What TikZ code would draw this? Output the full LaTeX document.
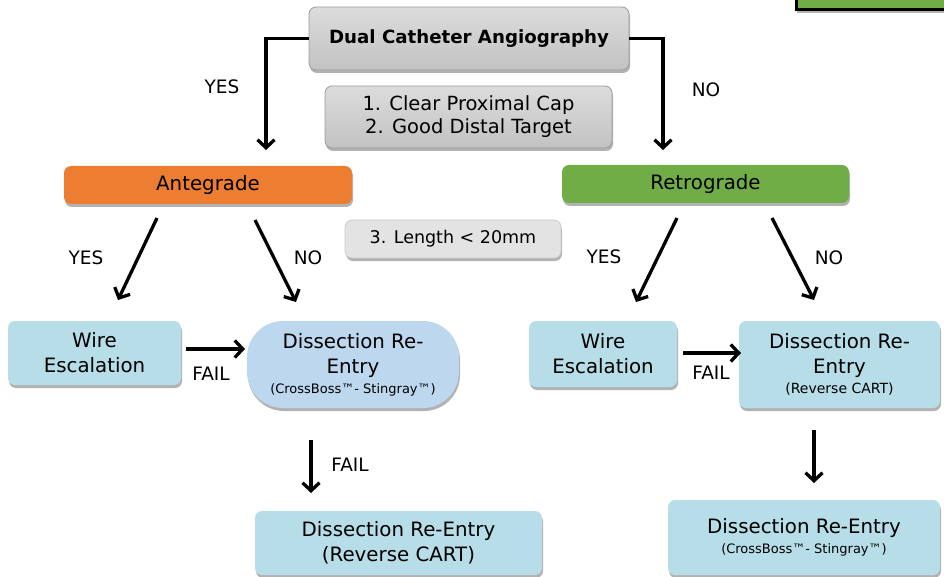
\documentclass[tikz,border=0pt]{standalone}
\usepackage{fontspec}
\setmainfont{DejaVu Sans}
\usetikzlibrary{arrows.meta,shadows}
\definecolor{orng}{HTML}{ED7D31}
\definecolor{grn}{HTML}{70AD47}
\definecolor{lblue}{HTML}{B7DDE8}
\definecolor{pblue}{HTML}{BDD7EE}
\definecolor{gtop}{HTML}{DCDCDC}
\definecolor{gbot}{HTML}{C2C2C2}
\definecolor{gedge}{HTML}{9C9C9C}
\begin{document}
\begin{tikzpicture}[x=1pt,y=-1pt,
  shd/.style={drop shadow={shadow xshift=1pt,shadow yshift=-3pt,opacity=0.3,fill=black}},
  box/.style={rounded corners=7pt,align=center,inner sep=0pt,shd},
  graybox/.style={box,draw=gedge,line width=0.8pt,top color=gtop,bottom color=gbot},
  lightbox/.style={box,draw=gray!40,line width=0.8pt,fill=gray!22},
  bluebox/.style={box,fill=lblue},
  big/.style={font=\fontsize{19.8}{25}\selectfont},
  lbl/.style={font=\fontsize{18.5}{20}\selectfont},
  arr/.style={line width=3.3pt,-{Straight Barb[length=8pt,width=17pt,line width=3.3pt]}},
  elb/.style={line width=3.3pt,-{Straight Barb[length=8pt,width=17pt,line width=3.3pt]},rounded corners=0pt}
]
\useasboundingbox (0,0) rectangle (944,577);

% partially visible box at the top right
\node[box,rounded corners=0pt,draw=black,line width=3pt,fill=grn,minimum width=152pt,minimum height=24pt] (corner) at (872,-2) {};

\node[graybox,minimum width=320pt,minimum height=63pt,font=\bfseries\fontsize{18.2}{22}\selectfont] (top) at (469,38.5) {Dual Catheter Angiography};
\node[graybox,minimum width=287pt,minimum height=62pt,font=\fontsize{19.5}{23}\selectfont] (cond) at (468.5,117) {1. Clear Proximal Cap\\2. Good Distal Target};
\node[box,fill=orng,minimum width=288pt,minimum height=38pt,big] (ante) at (208,185) {Antegrade};
\node[box,fill=grn,minimum width=287pt,minimum height=38pt,big] (retro) at (705.5,184) {Retrograde};
\node[lightbox,minimum width=216pt,minimum height=38pt,font=\fontsize{17.5}{20}\selectfont] (len) at (453,239) {3. Length < 20mm};

\node[bluebox,minimum width=173pt,minimum height=64pt,big] (we1) at (94.5,353) {Wire\\Escalation};
\node[box,fill=pblue,rounded corners=36pt,minimum width=212pt,minimum height=87pt,big] (dr1) at (353,364.5) {Dissection Re-\\Entry\\[-5pt]{\fontsize{13}{15}\selectfont(CrossBoss™- Stingray™)}};
\node[bluebox,minimum width=148pt,minimum height=66pt,big] (we2) at (603,354) {Wire\\Escalation};
\node[bluebox,minimum width=201pt,minimum height=87pt,big] (dr2) at (839.5,364.5) {Dissection Re-\\Entry\\[-5pt]{\fontsize{14}{16}\selectfont(Reverse CART)}};
\node[bluebox,minimum width=287pt,minimum height=64pt,big] (bl) at (398.5,543) {Dissection Re-Entry\\(Reverse CART)};
\node[bluebox,minimum width=272pt,minimum height=75pt,big] (br) at (804,537.5) {Dissection Re-Entry\\[-5pt]{\fontsize{13}{15}\selectfont(CrossBoss™- Stingray™)}};

% free ends of connectors
\coordinate (t1) at (266,150);
\coordinate (t2) at (663,150);
\coordinate (a1s) at (157,218); \coordinate (a1e) at (118,300);
\coordinate (a2s) at (255,220); \coordinate (a2e) at (296,302);
\coordinate (r1s) at (677,218); \coordinate (r1e) at (636,302);
\coordinate (r2s) at (772,218); \coordinate (r2e) at (814,300);
\coordinate (f1s) at (186,349); \coordinate (f1e) at (245,349);
\coordinate (f2s) at (683,353); \coordinate (f2e) at (741,353);
\coordinate (d1s) at (311,440); \coordinate (d1e) at (311,493);
\coordinate (d2s) at (814,430); \coordinate (d2e) at (814,483);

\draw[elb] (top.west) -| (t1);
\draw[elb] (top.east) -| (t2);
\draw[arr] (a1s) -- (a1e);
\draw[arr] (a2s) -- (a2e);
\draw[arr] (r1s) -- (r1e);
\draw[arr] (r2s) -- (r2e);
\draw[arr] (f1s) -- (f1e);
\draw[arr] (f2s) -- (f2e);
\draw[arr] (d1s) -- (d1e);
\draw[arr] (d2s) -- (d2e);

\node[lbl] (yes0) at (222,87) {YES};
\node[lbl] (no0) at (706,90) {NO};
\node[lbl] (yes1) at (86,258) {YES};
\node[lbl] (no1) at (308,258) {NO};
\node[lbl] (yes2) at (604,257) {YES};
\node[lbl] (no2) at (829,258) {NO};
\node[lbl] (fail1) at (211,374) {FAIL};
\node[lbl] (fail2) at (711,373) {FAIL};
\node[lbl] (fail3) at (350,465) {FAIL};
\end{tikzpicture}
\end{document}
